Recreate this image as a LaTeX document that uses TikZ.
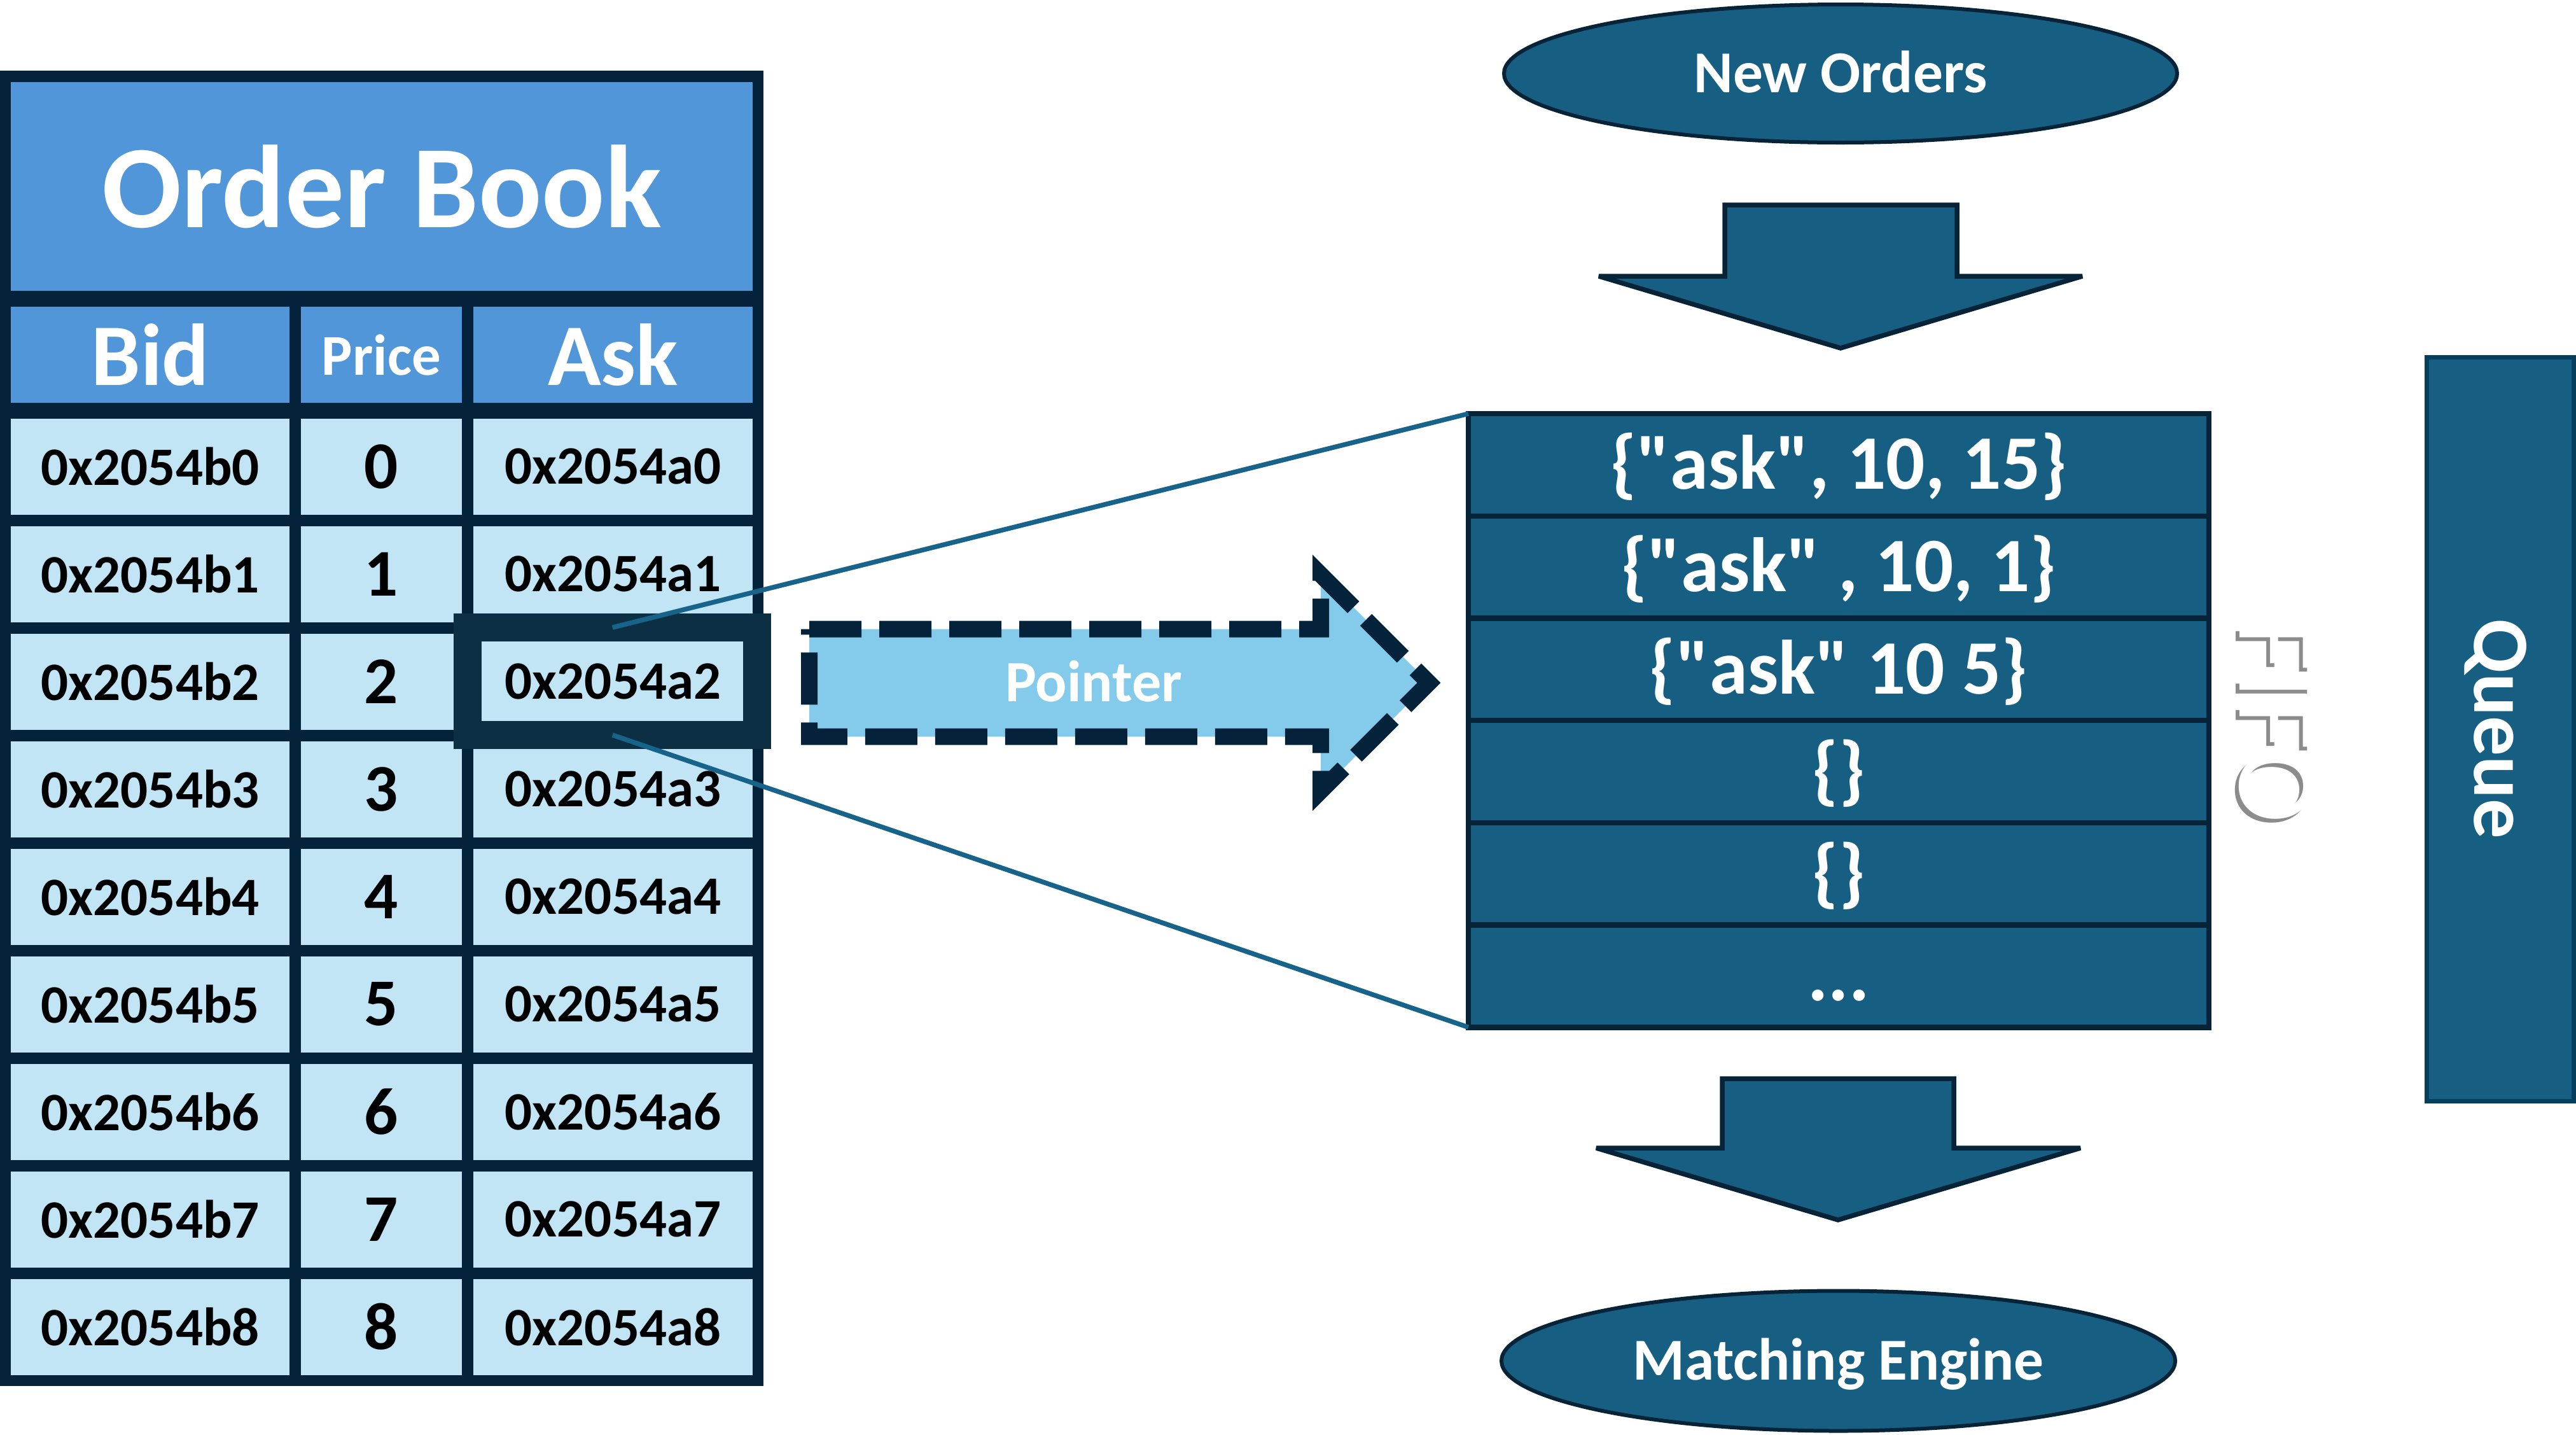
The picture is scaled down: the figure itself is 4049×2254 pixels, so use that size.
\documentclass[tikz,border=0pt]{standalone}
\usepackage{fontspec}
\setmainfont{Carlito}[Ligatures=TeXOff]
\usetikzlibrary{shapes.geometric}
\definecolor{tabdark}{HTML}{04233A}
\definecolor{titleblue}{HTML}{5096D9}
\definecolor{cellblue}{HTML}{C1E5F4}
\definecolor{hldark}{HTML}{0C2F44}
\definecolor{ptrfill}{HTML}{83CAEB}
\definecolor{qfill}{HTML}{175F82}
\definecolor{qline}{HTML}{062338}
\definecolor{queueline}{HTML}{053F5C}
\definecolor{lnkcol}{HTML}{17638A}
\begin{document}
\begin{tikzpicture}[x=0.2pt,y=-0.2pt,
  box/.style={rectangle, inner sep=0pt, outer sep=0pt},
  tablebg/.style={box, fill=tabdark, anchor=north west},
  titlecell/.style={box, fill=titleblue, text=white, font=\bfseries\fontsize{37pt}{40pt}\selectfont},
  hdrcell/.style={box, fill=titleblue, text=white, minimum height=30.2pt},
  datacell/.style={box, fill=cellblue, text=black, minimum height=30.2pt, font=\bfseries\fontsize{17pt}{20pt}\selectfont},
  hlbox/.style={box, draw=hldark, line width=8.8pt},
  lnk/.style={draw=lnkcol, line width=1.5pt},
  ptr/.style={fill=ptrfill, draw=tabdark, line width=5.2pt, dash pattern=on 16.4pt off 5.6pt, line join=miter},
  ptrtext/.style={text=white, font=\bfseries\fontsize{18.4pt}{20pt}\selectfont, text height=11.6pt, text depth=0pt, inner sep=0pt},
  qrow/.style={box, fill=qfill, draw=qline, line width=1.7pt, minimum width=232.8pt, minimum height=32.14pt, text=white, font=\bfseries\fontsize{24.2pt}{26pt}\selectfont, text height=15.3pt, text depth=0pt},
  oval/.style={ellipse, fill=qfill, draw=qline, line width=1.2pt, inner sep=0pt, outer sep=0pt, text=white, font=\bfseries\fontsize{18.7pt}{20pt}\selectfont, text height=11.8pt, text depth=0pt},
  bigarrow/.style={fill=qfill, draw=qline, line width=1.5pt, line join=miter, miter limit=3},
  queuebox/.style={box, fill=qfill, draw=queueline, line width=1.4pt, text=white, font=\bfseries\fontsize{25pt}{28pt}\selectfont, text height=15.9pt, text depth=0pt},
  fifotext/.style={inner sep=0pt, font=\fontsize{35pt}{38pt}\selectfont}
]
\useasboundingbox (0,0) rectangle (4049,2254);
\fill[white] (0,0) rectangle (4049,2254);

% ---------- order book table ----------
\node[tablebg, minimum width=240pt, minimum height=413.4pt] (tbl) at (0,111) {};
\node[titlecell, minimum width=233.1pt, minimum height=65.6pt] (title) at (600.25,293) {Order Book};
\node[hdrcell, minimum width=87.5pt, font=\bfseries\fontsize{27.6pt}{30pt}\selectfont] (hbid) at (236.25,557.5) {Bid};
\node[hdrcell, minimum width=50.6pt, font=\bfseries\fontsize{18.2pt}{20pt}\selectfont] (hprice) at (599.5,557.5) {Price};
\node[hdrcell, minimum width=87.8pt, font=\bfseries\fontsize{27.6pt}{30pt}\selectfont] (hask) at (963.5,557.5) {Ask};
\foreach \k in {0,...,8}{
  \pgfmathsetmacro\yy{733+169*\k}
  \node[datacell, minimum width=87.5pt] (bid\k) at (236.25,\yy) {0x2054b\k};
  \node[datacell, minimum width=50.6pt, font=\bfseries\fontsize{21pt}{24pt}\selectfont] (pr\k) at (599.5,\yy) {\k};
  \node[datacell, minimum width=87.8pt] (ask\k) at (963.5,\yy) {0x2054a\k};
}
\node[hlbox, minimum width=91.1pt, minimum height=33.8pt] (hl) at (962.7,1070.5) {};

% ---------- FIFO list ----------
\node[qrow] (q1) at (2890,730.4) {\{"ask", 10, 15\}};
\node[qrow] (q2) at (2890,891.1) {\{"ask" , 10, 1\}};
\node[qrow] (q3) at (2890,1051.8) {\{"ask" 10 5\}};
\node[qrow] (q4) at (2890,1212.5) {\{\}};
\node[qrow] (q5) at (2890,1373.2) {\{\}};
\node[qrow] (q6) at (2890,1533.9) {...};

% ---------- zoom lines ----------
\draw[lnk] (hl.north) -- (q1.north west);
\draw[lnk] (hl.south) -- (q6.south west);

% ---------- pointer arrow ----------
\draw[ptr] (1272,988.5) -- (2076,988.5) -- (2076,903) -- (2246,1073) -- (2076,1243) -- (2076,1157.5) -- (1272,1157.5) -- cycle;
\node[ptrtext] (ptrlabel) at (1719,1073.5) {Pointer};

% ---------- ovals and arrows ----------
\node[oval, minimum width=211.6pt, minimum height=43.4pt] (neworders) at (2893,115.5) {New Orders};
\node[oval, minimum width=211.8pt, minimum height=44pt] (engine) at (2889.5,2138.5) {Matching Engine};
\draw[bigarrow] (2711,322) -- (3076,322) -- (3076,434) -- (3273,434) -- (2893,547) -- (2513,434) -- (2711,434) -- cycle;
\draw[bigarrow] (2707,1695) -- (3071,1695) -- (3071,1804) -- (3270,1804) -- (2889,1917) -- (2509,1804) -- (2707,1804) -- cycle;

% ---------- FIFO label ----------
\node[fifotext, text=black!45, rotate=-90] (fifoshadow) at (3571,1140) {FIFO};
\node[fifotext, text=white, rotate=-90] (fifo) at (3577,1134) {FIFO};

% ---------- Queue box ----------
\node[queuebox, rotate=-90, minimum width=233.8pt, minimum height=46.2pt] (queue) at (3929.5,1145.5) {Queue};
\end{tikzpicture}
\end{document}
